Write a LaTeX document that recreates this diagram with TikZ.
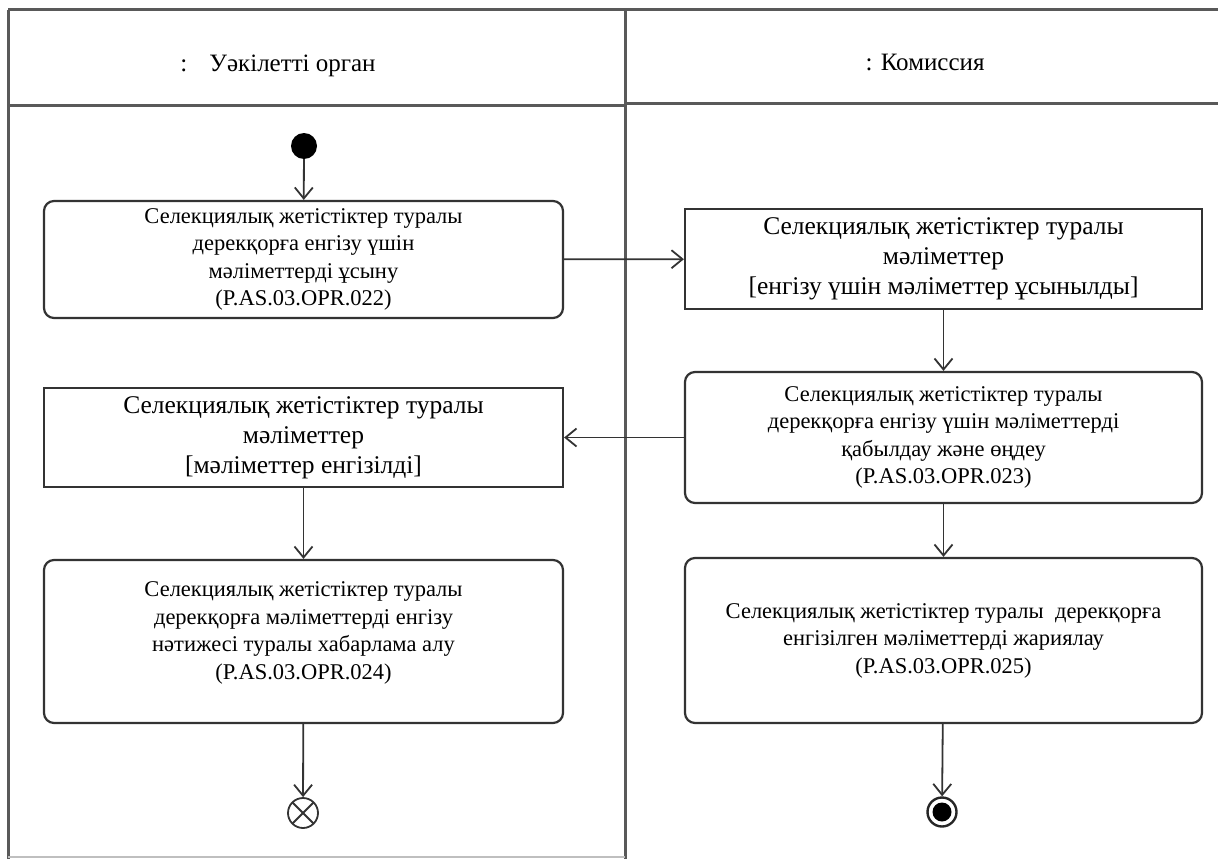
\documentclass[tikz,border=0pt]{standalone}
\usepackage{fontspec}
\setmainfont{Liberation Serif}
\usetikzlibrary{arrows.meta}
\usetikzlibrary{positioning}

\begin{document}
\begin{tikzpicture}[x=1pt,y=-1pt,
lane/.style={draw=black!65, line width=3pt},
act/.style={draw=black!80, line width=2.2pt, rounded corners=10pt, align=center, inner sep=0pt, font=\fontsize{22.5}{27.5}\selectfont},
obj/.style={draw=black!80, line width=2.2pt, align=center, inner sep=0pt, font=\fontsize{25.5}{30}\selectfont},
lanehead/.style={font=\fontsize{25}{30}\selectfont},
flow/.style={draw=black!80, line width=1.8pt, -{Straight Barb[length=11pt,width=18pt,line width=1.8pt]}}]
\useasboundingbox (0,0) rectangle (1218,859);
\draw[lane] (8,10) -- (1218,10);
\draw[lane] (8,10) -- (8,859);
\draw[lane] (625,10) -- (625,859);
\draw[lane] (8,105) -- (625,105);
\draw[lane] (625,103) -- (1218,103);
\draw[draw=black!25, line width=1.5pt] (8,857) -- (625,857);
\node[lanehead] (lane1) at (278,66) {:\hspace{22pt}Уәкілетті орган};
\node[lanehead] (lane2) at (925,62) {: Комиссия};
\node[circle, fill=black, minimum size=26pt, inner sep=0pt] (init) at (304,146) {};
\node[act, minimum width=519pt, minimum height=117pt] (submit) at (303.5,259.5) {Селекциялық жетістіктер туралы\\ дерекқорға енгізу үшін\\ мәліметтерді ұсыну\\ (P.AS.03.OPR.022)};
\node[obj, minimum width=517pt, minimum height=100pt] (submitted) at (943.5,259) {Селекциялық жетістіктер туралы\\ мәліметтер\\ {[}енгізу үшін мәліметтер ұсынылды{]}};
\node[act, minimum width=517pt, minimum height=131pt] (process) at (943.5,437.5) {Селекциялық жетістіктер туралы\\ дерекқорға енгізу үшін мәліметтерді\\ қабылдау және өңдеу\\ (P.AS.03.OPR.023)};
\node[obj, minimum width=519pt, minimum height=99pt] (entered) at (303.5,437.5) {Селекциялық жетістіктер туралы\\ мәліметтер\\ {[}мәліметтер енгізілді{]}};
\node[act, minimum width=519pt, minimum height=163pt] (notify) at (303.5,641.5) {Селекциялық жетістіктер туралы\\ дерекқорға мәліметтерді енгізу\\ нәтижесі туралы хабарлама алу\\ (P.AS.03.OPR.024)\\[-6pt]\mbox{}};
\node[act, minimum width=517pt, minimum height=165pt] (publish) at (943.5,640.5) {Селекциялық жетістіктер туралы\ \ дерекқорға\\ енгізілген мәліметтерді жариялау\\ (P.AS.03.OPR.025)};
\node[circle, draw=black!80, line width=1.8pt, minimum size=30pt, inner sep=0pt,
  path picture={\draw[black!80, line width=1.8pt] (path picture bounding box.north west) -- (path picture bounding box.south east) (path picture bounding box.north east) -- (path picture bounding box.south west);}] (stop) at (303,813) {};
\node[circle, draw=black!85, line width=2.4pt, minimum size=29pt, inner sep=0pt,
  path picture={\fill[black] (path picture bounding box.center) circle (9.5pt);}] (final) at (942,812) {};
\draw[flow] (init) -- (submit);
\draw[flow] (submit) -- (submitted);
\draw[flow] (submitted) -- (process);
\draw[flow] (process) -- (entered);
\draw[flow] (entered) -- (notify);
\draw[flow] (notify) -- (stop);
\draw[flow] (process) -- (publish);
\draw[flow] (publish) -- (final);
\end{tikzpicture}
\end{document}
